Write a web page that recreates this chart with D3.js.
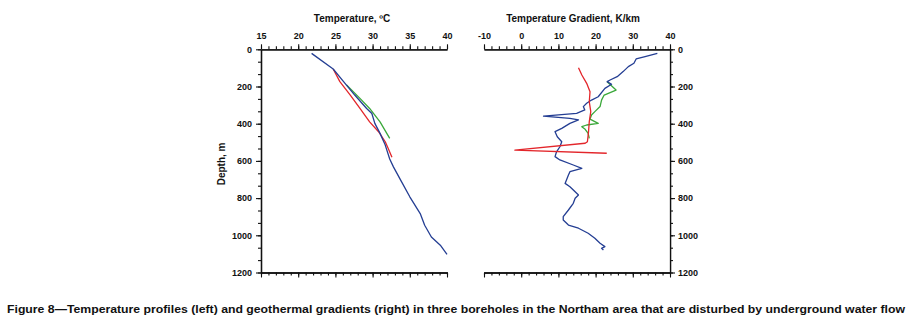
<!DOCTYPE html>
<html><head><meta charset="utf-8">
<script src="https://cdnjs.cloudflare.com/ajax/libs/d3/7.8.5/d3.min.js"></script>
<style>body{margin:0;background:#fff}svg{display:block}</style>
</head><body>
<script>
// ---------- DATA ----------
const tempTicks = [15, 20, 25, 30, 35, 40];
const gradTicks = [-10, 0, 10, 20, 30, 40];
const depthTicks = [0, 200, 400, 600, 800, 1000, 1200];

// Left panel: temperature (°C) vs depth (m)
const tempBlue = [[21.8,22],[24.7,106],[26.1,174],[27.6,246],[29.2,318],[29.9,345],[30.3,398],[31.0,452],[31.7,515],[32.3,590],[32.8,632],[33.9,713],[35.0,793],[36.4,883],[37.0,946],[37.9,1009],[39.1,1053],[40.0,1102]];
const tempRed = [[24.7,106],[25.6,174],[27.0,246],[28.3,318],[29.6,390],[30.8,443],[31.7,497],[32.1,533],[32.6,581]];
const tempGreen = [[26.5,192],[28.3,264],[29.6,318],[31.0,390],[32.3,479]];

// Right panel: temperature gradient (K/km) vs depth (m)
const gradBlue = [[36.6,22],[33.3,40],[30.9,52],[30.3,75],[28.8,93],[27.4,120],[25.8,147],[23.9,165],[23.1,174],[24.3,188],[22.5,210],[20.7,255],[18.9,273],[17.6,290],[16.7,308],[17.1,326],[14.9,344],[6.0,359],[13.1,371],[15.4,380],[13.1,398],[10.9,425],[9.1,443],[9.7,470],[10.9,497],[10.4,524],[9.5,551],[9.1,577],[10.4,595],[14.0,622],[16.3,640],[13.1,658],[12.7,676],[11.8,721],[13.1,739],[14.5,766],[15.4,783],[14.5,801],[14.0,828],[12.7,864],[11.3,900],[11.3,918],[12.7,945],[15.4,962],[18.0,989],[19.8,1016],[21.2,1043],[22.5,1061],[21.6,1070],[22.1,1079]];
const gradRed = [[15.4,99],[16.3,138],[17.6,183],[18.5,228],[18.3,282],[18.7,335],[18.3,389],[18.1,443],[17.8,497],[17.2,505],[-1.7,542],[23.0,559]];
const gradGreen = [[23.1,174],[25.5,219],[22.3,246],[21.6,273],[21.2,308],[19.8,335],[18.9,353],[18.5,375],[20.7,398],[17.6,407],[16.3,416],[17.1,428],[18.0,452],[18.3,479]];

const tempTitle = "Temperature, ºC";
const gradTitle = "Temperature Gradient, K/km";
const depthTitle = "Depth, m";
const caption = "Figure 8\u2014Temperature profiles (left) and geothermal gradients (right) in three boreholes in the Northam area that are disturbed by underground water flow";

// ---------- DRAW ----------
const W = 911, H = 324;
const svg = d3.select("body").append("svg").attr("width", W).attr("height", H);
const FONT = "'Liberation Sans', Arial, sans-serif";
const BLUE = "#243e93", RED = "#e3262b", GREEN = "#3aa83a";
const fmt = d => String(d).replace("\u2212", "-");

svg.append("defs").append("clipPath").attr("id", "cut")
  .append("rect").attr("x", 0).attr("y", 0).attr("width", 707.5).attr("height", H);

const y = d3.scaleLinear().domain([0, 1200]).range([49.3, 272.5]);
const xL = d3.scaleLinear().domain([15, 40]).range([261, 447]);
const xR = d3.scaleLinear().domain([-10, 40]).range([484, 670]);

function styleAxis(g) {
  g.selectAll("path.domain").attr("stroke", "#111").attr("stroke-width", 1.3);
  g.selectAll(".tick line").attr("stroke", "#111").attr("stroke-width", 1.1);
  g.selectAll("text").attr("font-family", FONT).attr("font-weight", "bold")
    .attr("font-size", 9).attr("fill", "#111");
}

function addAxis(axisFn, scale, major, minor, transform, showLabels, pad) {
  const gMin = svg.append("g").attr("transform", transform)
    .call(axisFn(scale).tickValues(minor).tickSize(3).tickSizeOuter(0).tickFormat(""));
  styleAxis(gMin);
  const a = axisFn(scale).tickValues(major).tickSize(5).tickSizeOuter(0).tickPadding(pad || 4);
  a.tickFormat(showLabels ? fmt : "");
  const g = svg.append("g").attr("transform", transform).call(a);
  styleAxis(g);
  return g;
}

const minorT = d3.range(15, 40.01, 1);
const minorG = d3.range(-10, 40.01, 2);
const minorD = d3.range(0, 1200.01, 200 / 3);

// Left panel axes
addAxis(d3.axisTop, xL, tempTicks, minorT, `translate(0,${y(0)})`, true, 5);
addAxis(d3.axisBottom, xL, tempTicks, minorT, `translate(0,${y(1200)})`, false);
addAxis(d3.axisLeft, y, depthTicks, minorD, `translate(${xL(15)},0)`, true, 4);

// Right panel axes
addAxis(d3.axisTop, xR, gradTicks, minorG, `translate(0,${y(0)})`, true, 5);
addAxis(d3.axisBottom, xR, gradTicks, minorG, `translate(0,${y(1200)})`, false);
addAxis(d3.axisRight, y, depthTicks, minorD, `translate(${xR(40)},0)`, true, 3)
  .attr("clip-path", "url(#cut)");

// Titles
svg.append("text").attr("x", (xL(15) + xL(40)) / 2 - 2).attr("y", 22)
  .attr("text-anchor", "middle").attr("font-family", FONT).attr("font-weight", "bold")
  .attr("font-size", 10).attr("fill", "#111").text(tempTitle);
svg.append("text").attr("x", (xR(-10) + xR(40)) / 2 - 4).attr("y", 22)
  .attr("text-anchor", "middle").attr("font-family", FONT).attr("font-weight", "bold")
  .attr("font-size", 10).attr("fill", "#111").text(gradTitle);
svg.append("text").attr("transform", `translate(225,${(y(0) + y(1200)) / 2 + 3}) rotate(-90)`)
  .attr("text-anchor", "middle").attr("font-family", FONT).attr("font-weight", "bold")
  .attr("font-size", 10).attr("fill", "#111").text(depthTitle);

// Lines
function drawLine(data, xs, color) {
  svg.append("path").datum(data)
    .attr("fill", "none").attr("stroke", color).attr("stroke-width", 1.3)
    .attr("stroke-linejoin", "round")
    .attr("d", d3.line().x(d => xs(d[0])).y(d => y(d[1])));
}
drawLine(tempGreen, xL, GREEN);
drawLine(tempRed, xL, RED);
drawLine(tempBlue, xL, BLUE);
drawLine(gradGreen, xR, GREEN);
drawLine(gradBlue, xR, BLUE);
drawLine(gradRed, xR, RED);

// Caption
svg.append("text").attr("x", 7).attr("y", 312.5)
  .attr("font-family", "'Liberation Sans Narrow', 'Arial Narrow', 'Liberation Sans', sans-serif")
  .attr("font-weight", "bold").attr("font-size", 11.5).attr("fill", "#111")
  .attr("textLength", 898).attr("lengthAdjust", "spacingAndGlyphs")
  .text(caption);
</script>
</body></html>
